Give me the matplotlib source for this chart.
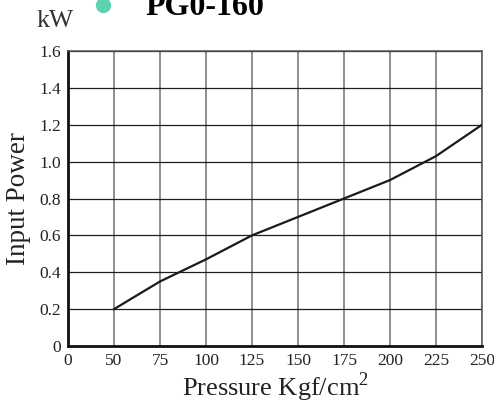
import matplotlib.pyplot as plt
from matplotlib.lines import Line2D

# =============================
# DATOS
# =============================
x_ticks = [0, 50, 75, 100, 125, 150, 175, 200, 225, 250]
pressure = [50, 75, 100, 125, 150, 175, 200, 225, 250]
power = [0.2, 0.35, 0.47, 0.6, 0.7, 0.8, 0.9, 1.03, 1.2]
y_ticks = [0, 0.2, 0.4, 0.6, 0.8, 1.0, 1.2, 1.4, 1.6]
y_labels = ["0", "0.2", "0.4", "0.6", "0.8", "1.0", "1.2", "1.4", "1.6"]

plt.rcParams["font.family"] = ["Liberation Serif", "DejaVu Serif"]
plt.rcParams["mathtext.fontset"] = "custom"
plt.rcParams["mathtext.rm"] = "Liberation Serif"

fig = plt.figure(figsize=(4.94, 4.05), dpi=100)
ax = fig.add_axes([0.1377, 0.1457, 0.838, 0.7283])

# los ticks del eje x van espaciados igual (0 y 50 tambien)
pos = [x_ticks.index(p) for p in pressure]
ax.plot(pos, power, color="#1a1a1a", lw=1.6, zorder=3)

ax.set_xlim(0, len(x_ticks) - 1)
ax.set_ylim(0, 1.6)
ax.set_xticks(range(len(x_ticks)))
ax.set_xticklabels([str(t) for t in x_ticks])
ax.set_yticks(y_ticks)
ax.set_yticklabels(y_labels)
ax.tick_params(length=0, labelsize=12.5, colors="#222222", pad=5)

for i in range(1, len(x_ticks)):
    ax.axvline(i, color="#707070", lw=1.1, zorder=1)
for v in y_ticks[1:]:
    ax.axhline(v, color="#1e1e1e", lw=0.9, zorder=1)

for s in ["left", "bottom"]:
    ax.spines[s].set_linewidth(2)
    ax.spines[s].set_color("#111111")
for s in ["top", "right"]:
    ax.spines[s].set_linewidth(1.1)
    ax.spines[s].set_color("#555555")

ax.set_xlabel(r"Pressure Kgf/cm$^\mathrm{2}$", fontsize=19, color="#222222", labelpad=1)
ax.set_ylabel("Input Power", fontsize=19.5, color="#222222", labelpad=6)

fig.text(0.073, 1 - 27 / 405, "kW", fontsize=18.5, color="#333333", va="baseline")
fig.text(0.294, 1 - 15 / 405, "PG0-160", fontsize=23, fontweight="bold",
         color="black", va="baseline")
fig.add_artist(Line2D([103 / 494], [1 - 5 / 405], marker="o", markersize=10,
                      color="#5fd1b3", transform=fig.transFigure))

plt.savefig("out.png", dpi=100)
